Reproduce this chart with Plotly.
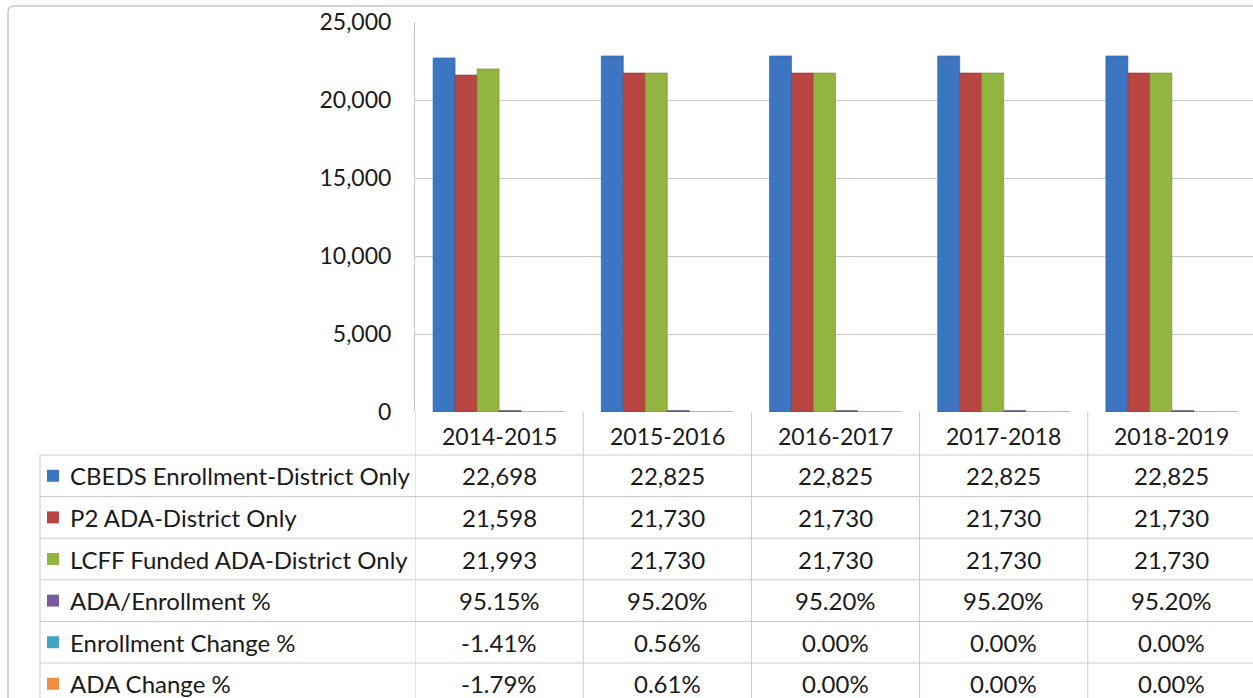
import plotly.graph_objects as go

W, H = 1253, 698

categories = ["2014-2015", "2015-2016", "2016-2017", "2017-2018", "2018-2019"]
series_names = [
    "CBEDS Enrollment-District Only",
    "P2 ADA-District Only",
    "LCFF Funded ADA-District Only",
    "ADA/Enrollment %",
    "Enrollment Change %",
    "ADA Change %",
]
cbeds = [22698, 22825, 22825, 22825, 22825]
p2_ada = [21598, 21730, 21730, 21730, 21730]
lcff_ada = [21993, 21730, 21730, 21730, 21730]
ada_enroll_pct = [95.15, 95.20, 95.20, 95.20, 95.20]
enroll_change_pct = [-1.41, 0.56, 0.00, 0.00, 0.00]
ada_change_pct = [-1.79, 0.61, 0.00, 0.00, 0.00]
series_values = [cbeds, p2_ada, lcff_ada, ada_enroll_pct, enroll_change_pct, ada_change_pct]
series_is_pct = [False, False, False, True, True, True]
colors = ["#3C76C2", "#B84744", "#93B440", "#7A5C9E", "#42A6C2", "#F08C45"]
line_colors = ["#2f5f9c", "#8f3532", "#72902e", "#5b4478", "#2f8099", "#c06a30"]

y_ticks = [0, 5000, 10000, 15000, 20000, 25000]

FONT = "Lato, Carlito, Calibri, 'Open Sans', sans-serif"
GRID = "#cdc6cc"
TXT = "#1a1a1a"
TABLE_SIZE = 24
AXIS_SIZE = 23

# layout in pixels
plot_left, plot_top, plot_bottom = 415, 22, 412
col_w = 168.2
table_left = 40
header_bottom = 455
row_h = 41.6


def px(x):
    return x / W


def py(y):
    return 1 - y / H


fig = go.Figure()
for name, vals, c, lc in zip(series_names, series_values, colors, line_colors):
    fig.add_trace(go.Bar(x=categories, y=vals, name=name,
                         marker=dict(color=c, line=dict(color=lc, width=0.6)),
                         showlegend=False))

x_right = -0.5 + (W - plot_left) / col_w

shapes = []
annotations = []

# outer frame
shapes.append(dict(type="path", xref="paper", yref="paper",
                   path=f"M {px(8)},{py(H+20)} L {px(8)},{py(12)} Q {px(8)},{py(6)} {px(14)},{py(6)} L {px(W+20)},{py(6)}",
                   line=dict(color="#c9c4c9", width=1.5)))

# table vertical lines (category dividers) from plot bottom to bottom
for i in range(len(categories) + 1):
    shapes.append(dict(type="line", xref="x", yref="paper", x0=i - 0.5, x1=i - 0.5,
                       y0=py(plot_bottom), y1=0, line=dict(color=GRID, width=1)))
# left border of table
shapes.append(dict(type="line", xref="paper", yref="paper", x0=px(table_left), x1=px(table_left),
                   y0=py(header_bottom), y1=0, line=dict(color=GRID, width=1)))
# horizontal lines
for r in range(len(series_names) + 1):
    yy = header_bottom + r * row_h
    shapes.append(dict(type="line", xref="paper", yref="paper", x0=px(table_left), x1=1,
                       y0=py(yy), y1=py(yy), line=dict(color=GRID, width=1)))

# header labels
for c in categories:
    annotations.append(dict(x=c, y=py(436), xref="x", yref="paper", text=c, showarrow=False,
                            xanchor="center", yanchor="middle",
                            font=dict(family=FONT, size=AXIS_SIZE, color=TXT)))

# rows
for r, (name, vals, pct, col) in enumerate(zip(series_names, series_values, series_is_pct, colors)):
    yc = header_bottom + r * row_h + row_h / 2
    shapes.append(dict(type="rect", xref="paper", yref="paper",
                       x0=px(47), x1=px(59), y0=py(yc - 6), y1=py(yc + 6),
                       fillcolor=col, line=dict(width=0)))
    annotations.append(dict(x=px(68), y=py(yc), xref="paper", yref="paper", text=name,
                            showarrow=False, xanchor="left", yanchor="middle",
                            font=dict(family=FONT, size=TABLE_SIZE, color=TXT)))
    for c, v in zip(categories, vals):
        t = f"{v:.2f}%" if pct else f"{v:,.0f}"
        annotations.append(dict(x=c, y=py(yc), xref="x", yref="paper", text=t,
                                showarrow=False, xanchor="center", yanchor="middle",
                                font=dict(family=FONT, size=TABLE_SIZE, color=TXT)))

fig.update_layout(
    width=W, height=H,
    margin=dict(l=0, r=0, t=0, b=0, autoexpand=False),
    paper_bgcolor="white", plot_bgcolor="white",
    barmode="group", bargap=0.215, bargroupgap=0,
    font=dict(family=FONT, size=AXIS_SIZE, color=TXT),
    xaxis=dict(domain=[px(plot_left), 1], range=[-0.5, x_right], showticklabels=False,
               showgrid=False, zeroline=False, showline=False, ticks="", automargin=False),
    yaxis=dict(domain=[py(plot_bottom), py(plot_top)], range=[0, 25000], tickvals=y_ticks,
               tickformat=",", showgrid=True, gridcolor=GRID, gridwidth=1, zeroline=False,
               showline=True, linecolor=GRID, ticks="", ticklabelstandoff=18, automargin=False,
               tickfont=dict(family=FONT, size=AXIS_SIZE, color=TXT)),
    shapes=shapes,
    annotations=annotations,
)

fig.write_html("out.html", config={"displayModeBar": False},
               post_script="document.body.style.margin='0px';document.body.style.overflow='hidden';")
